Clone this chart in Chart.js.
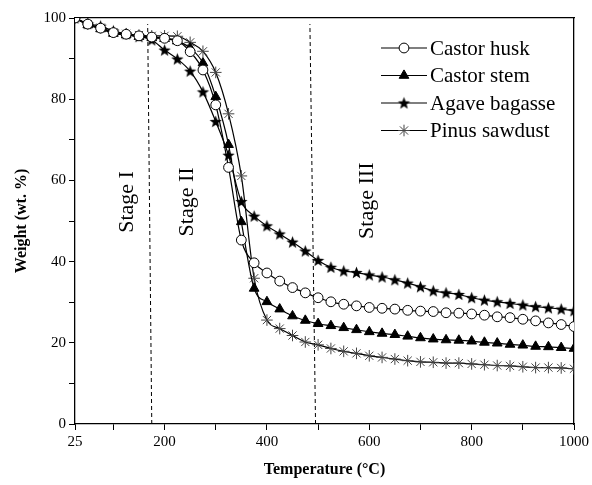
<!DOCTYPE html>
<html>
<head>
<meta charset="utf-8">
<script src="https://cdn.jsdelivr.net/npm/chart.js@4.4.0/dist/chart.umd.min.js"></script>
<style>
    html, body { margin: 0; padding: 0; background: #fff; }
    canvas { display: block; }
</style>
</head>
<body>
<canvas id="tgaChart" width="592" height="485"></canvas>
<script>
// --- Data ---
const temperatures = [25, 50, 75, 100, 125, 150, 175, 200, 225, 250, 275, 300, 325, 350, 375, 400, 425, 450, 475, 500,
                      525, 550, 575, 600, 625, 650, 675, 700, 725, 750, 775, 800, 825, 850, 875, 900, 925, 950, 975, 1000];

const castorHusk = [100, 98.5, 97.5, 96.4, 96.0, 95.6, 95.3, 95.0, 94.4, 91.7, 87.2, 78.6, 63.2, 45.3, 39.7, 37.2, 35.2, 33.6, 32.3, 31.1,
                    30.1, 29.5, 29.1, 28.7, 28.5, 28.3, 28.0, 27.8, 27.7, 27.4, 27.3, 27.1, 26.8, 26.4, 26.2, 25.8, 25.4, 24.9, 24.5, 24.0];
const castorStem = [100, 98.3, 97.3, 96.2, 95.8, 95.4, 95.1, 94.9, 94.3, 92.6, 88.9, 80.6, 68.8, 49.8, 33.4, 30.1, 28.3, 26.6, 25.5, 24.7,
                    24.2, 23.7, 23.2, 22.7, 22.3, 22.0, 21.6, 21.2, 20.9, 20.7, 20.6, 20.4, 20.1, 19.9, 19.6, 19.4, 19.1, 19.0, 18.8, 18.6];
const agaveBagasse = [100, 98.6, 98.0, 96.8, 96.1, 95.4, 94.6, 92.1, 89.9, 86.9, 81.8, 74.5, 66.2, 54.8, 51.2, 48.8, 46.8, 44.8, 42.6, 40.3,
                      38.6, 37.7, 37.3, 36.7, 36.2, 35.5, 34.7, 33.8, 32.8, 32.3, 31.9, 31.1, 30.5, 30.1, 29.7, 29.3, 28.9, 28.6, 28.3, 27.9];
const pinusSawdust = [100, 98.5, 97.6, 96.5, 96.1, 95.8, 95.6, 95.6, 95.5, 94.0, 91.8, 86.6, 76.4, 61.1, 35.9, 25.6, 23.5, 21.8, 20.2, 19.5,
                      18.6, 17.9, 17.4, 16.8, 16.4, 16.0, 15.6, 15.3, 15.2, 15.0, 15.0, 14.8, 14.6, 14.4, 14.3, 14.1, 13.9, 13.9, 13.8, 13.6];

const seriesNames = ['Castor husk', 'Castor stem', 'Agave bagasse', 'Pinus sawdust'];

// stage boundaries (dashed lines, slightly slanted in the original): bottom / top temperature
const boundaryBottom = [175, 495];
const boundaryTop = [167, 484];
const boundaryWeights = [0, 98.5];

const stageNames = ['Stage I', 'Stage II', 'Stage III'];

// axis ticks
const xTickValues = [25, 100, 200, 300, 400, 500, 600, 700, 800, 900, 1000];
const xTickLabels = [25, 200, 400, 600, 800, 1000];
const yTickLabels = [0, 20, 40, 60, 80, 100];

// --- Helpers ---
const SERIF = '"Liberation Serif", "DejaVu Serif", serif';

function toPoints(values) {
    return temperatures.map((t, i) => ({ x: t, y: values[i] }));
}

// filled 5 point star used for agave bagasse
function makeStar(r) {
    const size = Math.ceil(r * 2 + 2);
    const c = document.createElement('canvas');
    c.width = size; c.height = size;
    const g = c.getContext('2d');
    const cx = size / 2, cy = size / 2 + 0.5;
    g.beginPath();
    for (let i = 0; i < 10; i++) {
        const rad = i % 2 === 0 ? r : r * 0.42;
        const a = -Math.PI / 2 + i * Math.PI / 5;
        const px = cx + rad * Math.cos(a), py = cy + rad * Math.sin(a);
        if (i === 0) g.moveTo(px, py); else g.lineTo(px, py);
    }
    g.closePath();
    g.fillStyle = '#000';
    g.fill();
    return c;
}
const starImg = makeStar(6.5);

const lineBase = {
    borderColor: '#000',
    borderWidth: 1.2,
    cubicInterpolationMode: 'monotone',
    pointBorderColor: '#000',
    pointBorderWidth: 1,
    showLine: true,
    fill: false
};

const datasets = [
    { ...lineBase, label: seriesNames[0], data: toPoints(castorHusk),
      pointStyle: 'circle', pointRadius: 4.9, pointBackgroundColor: '#fff' },
    { ...lineBase, label: seriesNames[1], data: toPoints(castorStem),
      pointStyle: 'triangle', pointRadius: 5.6, pointBackgroundColor: '#000' },
    { ...lineBase, label: seriesNames[2], data: toPoints(agaveBagasse),
      pointStyle: starImg, pointRadius: 6 },
    { ...lineBase, label: seriesNames[3], data: toPoints(pinusSawdust),
      pointStyle: 'star', pointRadius: 5.8, pointBorderColor: '#444', pointBorderWidth: 1 }
];

boundaryBottom.forEach((t, i) => {
    datasets.push({
        label: 'boundary' + i,
        data: [{ x: t, y: boundaryWeights[0] }, { x: boundaryTop[i], y: boundaryWeights[1] }],
        borderColor: '#000',
        borderWidth: 1,
        borderDash: [4, 3],
        pointRadius: 0,
        showLine: true,
        fill: false
    });
});

// --- Legend drawn inside the plot ---
const insideLegend = {
    id: 'insideLegend',
    afterDatasetsDraw(chart) {
        const ctx = chart.ctx;
        const x0 = 381, x1 = 427, xm = 404, xt = 430;
        ctx.save();
        for (let i = 0; i < 4; i++) {
            const ds = chart.data.datasets[i];
            const y = 48 + i * 27.5;
            ctx.strokeStyle = '#000';
            ctx.lineWidth = 1.2;
            ctx.beginPath();
            ctx.moveTo(x0, y); ctx.lineTo(x1, y);
            ctx.stroke();
            ctx.fillStyle = ds.pointBackgroundColor || '#000';
            ctx.strokeStyle = ds.pointBorderColor || '#000';
            ctx.lineWidth = ds.pointBorderWidth || 1;
            Chart.helpers.drawPoint(ctx, {
                pointStyle: ds.pointStyle,
                radius: ds.pointRadius,
                rotation: 0,
                borderWidth: ds.pointBorderWidth || 1
            }, xm, y);
            ctx.fillStyle = '#000';
            ctx.font = '21px ' + SERIF;
            ctx.textAlign = 'left';
            ctx.textBaseline = 'middle';
            ctx.fillText(ds.label, xt, y + 1);
        }
        ctx.restore();
    }
};

// --- Stage labels (rotated) ---
const stageAnchors = [{ t: 128, w: 54.7 }, { t: 245, w: 54.7 }, { t: 595, w: 55 }];
const stageLabels = {
    id: 'stageLabels',
    afterDatasetsDraw(chart) {
        const ctx = chart.ctx;
        const xs = chart.scales.x, ys = chart.scales.y;
        ctx.save();
        ctx.fillStyle = '#000';
        ctx.font = '22px ' + SERIF;
        ctx.textAlign = 'center';
        ctx.textBaseline = 'middle';
        stageNames.forEach((name, i) => {
            const px = xs.getPixelForValue(stageAnchors[i].t);
            const py = ys.getPixelForValue(stageAnchors[i].w);
            ctx.save();
            ctx.translate(px, py);
            ctx.rotate(-Math.PI / 2);
            ctx.fillText(name, 0, 0);
            ctx.restore();
        });
        ctx.restore();
    }
};

const tickFont = { family: SERIF, size: 15 };
const titleFont = { family: SERIF, size: 16, weight: 'bold' };

new Chart(document.getElementById('tgaChart'), {
    type: 'line',
    data: { datasets },
    options: {
        responsive: false,
        animation: false,
        devicePixelRatio: 1,
        layout: { padding: 0 },
        plugins: {
            legend: { display: false },
            tooltip: { enabled: false }
        },
        scales: {
            x: {
                type: 'linear',
                position: 'bottom',
                min: 25,
                max: 1000,
                afterBuildTicks: (scale) => { scale.ticks = xTickValues.map(v => ({ value: v })); },
                afterFit: (scale) => { scale.height = 61; },
                ticks: {
                    autoSkip: false,
                    maxRotation: 0,
                    color: '#000',
                    font: tickFont,
                    padding: 3,
                    callback: (v) => xTickLabels.includes(v) ? String(v) : ''
                },
                grid: { drawOnChartArea: false, tickLength: 6, color: '#000', lineWidth: 1 },
                border: { color: '#000', width: 1.3 },
                title: { display: true, text: 'Temperature (°C)', color: '#000', font: titleFont, padding: { top: 6, bottom: 6 } }
            },
            xTop: {
                type: 'linear',
                position: 'top',
                min: 25,
                max: 1000,
                afterFit: (scale) => { scale.height = 18; },
                ticks: { display: false },
                grid: { drawOnChartArea: false, drawTicks: false },
                border: { color: '#000', width: 1.3 }
            },
            y: {
                type: 'linear',
                position: 'left',
                min: 0,
                max: 100,
                afterFit: (scale) => { scale.width = 75; },
                ticks: {
                    stepSize: 10,
                    color: '#000',
                    font: tickFont,
                    padding: 3,
                    callback: (v) => yTickLabels.includes(v) ? String(v) : ''
                },
                grid: { drawOnChartArea: false, tickLength: 6, color: '#000', lineWidth: 1 },
                border: { color: '#000', width: 1.3 },
                title: { display: true, text: 'Weight (wt. %)', color: '#000', font: titleFont, padding: { top: 12, bottom: 4 } }
            },
            yRight: {
                type: 'linear',
                position: 'right',
                min: 0,
                max: 100,
                afterFit: (scale) => { scale.width = 17; },
                ticks: { display: false, stepSize: 10 },
                grid: { drawOnChartArea: false, drawTicks: false },
                border: { color: '#000', width: 1.3 }
            }
        }
    },
    plugins: [stageLabels, insideLegend]
});
</script>
</body>
</html>
